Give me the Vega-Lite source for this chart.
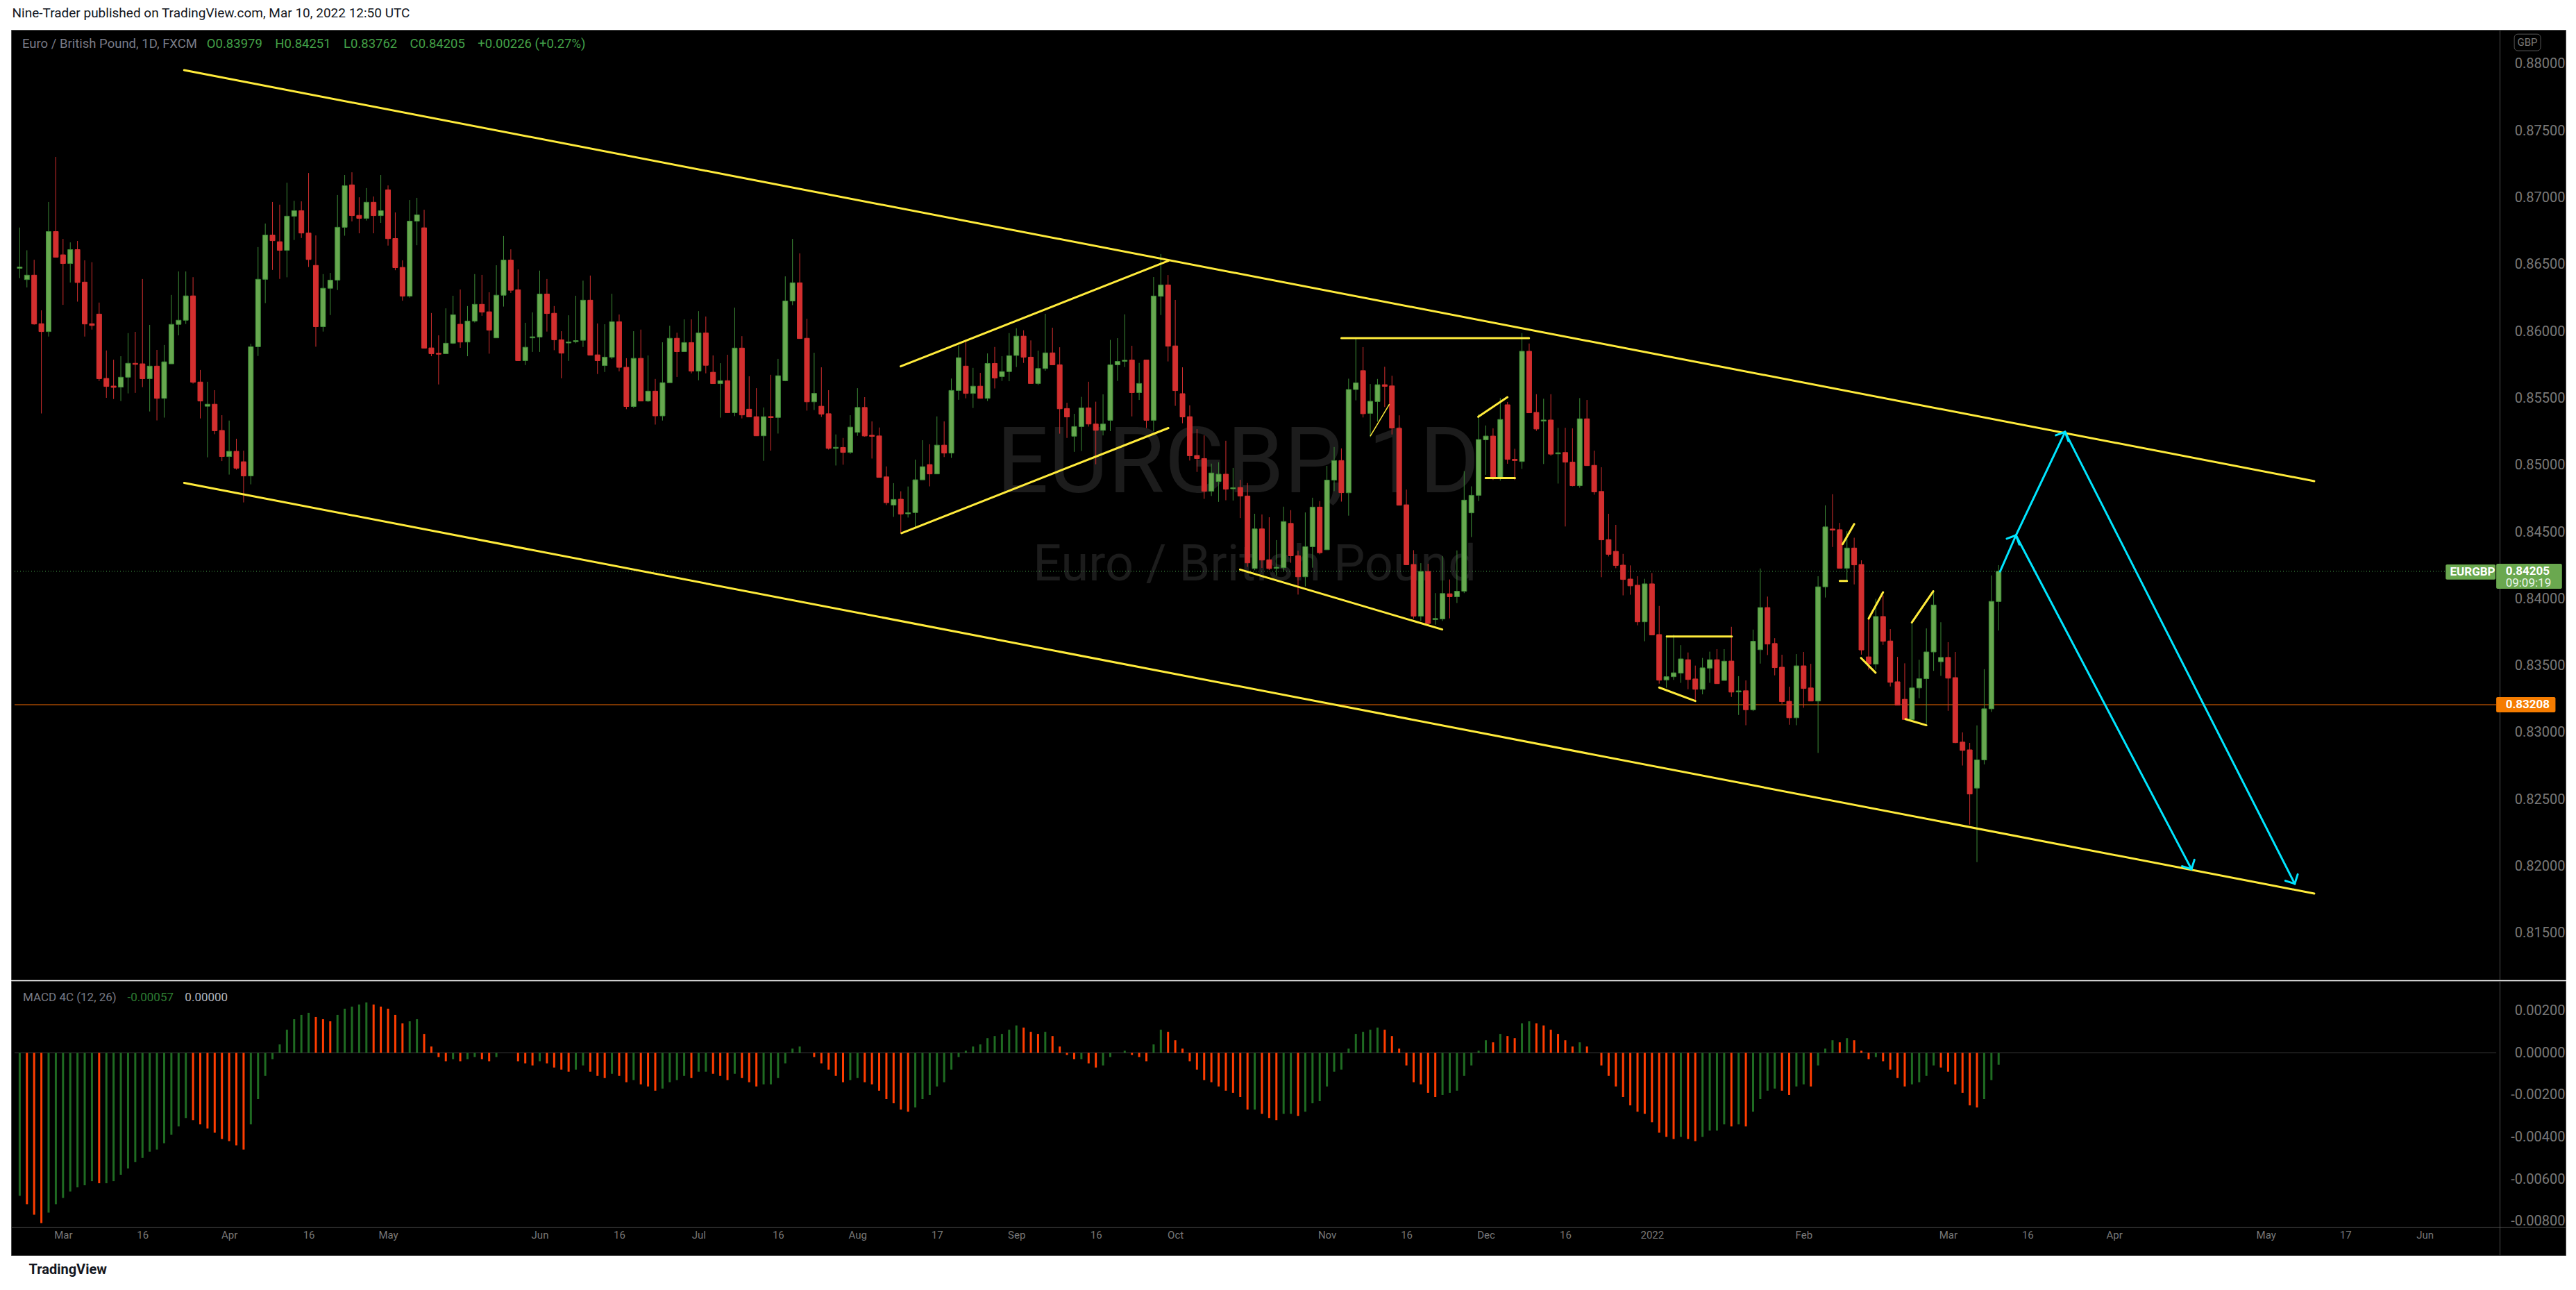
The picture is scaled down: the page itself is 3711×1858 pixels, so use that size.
{
"$schema":"https://vega.github.io/schema/vega-lite/v6.json",
"background":"#ffffff",
"padding":{"left":15,"right":16,"top":9,"bottom":17},
"title":{"text":"Nine-Trader published on TradingView.com, Mar 10, 2022 12:50 UTC","anchor":"start","offset":14,"font":"Roboto","fontSize":19,"fontWeight":"normal","color":"#131722","dx":2},
"spacing":0,
"config":{"view":{"stroke":"#4d4d4d","fill":"#000000"},"axis":{"grid":false,"ticks":false,"labelColor":"#787878","labelFont":"Roboto","domainColor":"#4d4d4d"}},
"datasets":{
"candles":[
{"t":-6,"o":0.8647,"h":0.86775,"l":0.86397,"c":0.8648},
{"t":-5,"o":0.86386,"h":0.86605,"l":0.86327,"c":0.86419},
{"t":-4,"o":0.86419,"h":0.86534,"l":0.86049,"c":0.86054},
{"t":-3,"o":0.86056,"h":0.86156,"l":0.85385,"c":0.85997},
{"t":-2,"o":0.85997,"h":0.86966,"l":0.8596,"c":0.86745},
{"t":-1,"o":0.86745,"h":0.87303,"l":0.86553,"c":0.86553},
{"t":0,"o":0.86571,"h":0.8669,"l":0.86197,"c":0.86506},
{"t":1,"o":0.86506,"h":0.86664,"l":0.86364,"c":0.8661},
{"t":2,"o":0.8661,"h":0.86675,"l":0.86221,"c":0.86364},
{"t":3,"o":0.86367,"h":0.8653,"l":0.8596,"c":0.86054},
{"t":4,"o":0.86056,"h":0.86516,"l":0.86012,"c":0.86043},
{"t":5,"o":0.86128,"h":0.86214,"l":0.85628,"c":0.85645},
{"t":6,"o":0.85647,"h":0.85856,"l":0.85502,"c":0.85587},
{"t":7,"o":0.8559,"h":0.85787,"l":0.85493,"c":0.8558},
{"t":8,"o":0.85582,"h":0.85813,"l":0.85478,"c":0.85656},
{"t":9,"o":0.85656,"h":0.85986,"l":0.85535,"c":0.8576},
{"t":10,"o":0.8576,"h":0.85995,"l":0.85539,"c":0.85752},
{"t":11,"o":0.85756,"h":0.8639,"l":0.85582,"c":0.85645},
{"t":12,"o":0.85645,"h":0.86047,"l":0.854,"c":0.85739},
{"t":13,"o":0.85739,"h":0.8586,"l":0.85333,"c":0.85498},
{"t":14,"o":0.85498,"h":0.85897,"l":0.85354,"c":0.85771},
{"t":15,"o":0.85756,"h":0.86271,"l":0.85756,"c":0.86051},
{"t":16,"o":0.86051,"h":0.86447,"l":0.85969,"c":0.86082},
{"t":17,"o":0.86082,"h":0.86447,"l":0.86054,"c":0.86264},
{"t":18,"o":0.86264,"h":0.86404,"l":0.85608,"c":0.85619},
{"t":19,"o":0.8562,"h":0.8571,"l":0.85348,"c":0.85478},
{"t":20,"o":0.85439,"h":0.85622,"l":0.85057,"c":0.85454},
{"t":21,"o":0.85454,"h":0.85559,"l":0.8523,"c":0.85256},
{"t":22,"o":0.85258,"h":0.85372,"l":0.85029,"c":0.85063},
{"t":23,"o":0.85063,"h":0.85332,"l":0.84928,"c":0.85102},
{"t":24,"o":0.85102,"h":0.85196,"l":0.84965,"c":0.84976},
{"t":25,"o":0.85024,"h":0.85107,"l":0.8472,"c":0.84918},
{"t":26,"o":0.84918,"h":0.85906,"l":0.84855,"c":0.85884},
{"t":27,"o":0.85884,"h":0.86629,"l":0.85815,"c":0.86388},
{"t":28,"o":0.86388,"h":0.86805,"l":0.8621,"c":0.86719},
{"t":29,"o":0.86719,"h":0.86966,"l":0.86458,"c":0.86677},
{"t":30,"o":0.86669,"h":0.86946,"l":0.86391,"c":0.86605},
{"t":31,"o":0.86605,"h":0.8711,"l":0.86403,"c":0.8686},
{"t":32,"o":0.8686,"h":0.86975,"l":0.86682,"c":0.86901},
{"t":33,"o":0.86901,"h":0.86971,"l":0.86697,"c":0.86734},
{"t":34,"o":0.86734,"h":0.87183,"l":0.8648,"c":0.86536},
{"t":35,"o":0.86492,"h":0.86716,"l":0.85884,"c":0.86034},
{"t":36,"o":0.86034,"h":0.86427,"l":0.85997,"c":0.86321},
{"t":37,"o":0.86321,"h":0.86436,"l":0.86121,"c":0.86382},
{"t":38,"o":0.86382,"h":0.87018,"l":0.86308,"c":0.86777},
{"t":39,"o":0.86777,"h":0.87168,"l":0.86714,"c":0.87088},
{"t":40,"o":0.87094,"h":0.87188,"l":0.86821,"c":0.86864},
{"t":41,"o":0.86866,"h":0.87001,"l":0.86732,"c":0.86844},
{"t":42,"o":0.86844,"h":0.8707,"l":0.86827,"c":0.86964},
{"t":43,"o":0.86964,"h":0.87007,"l":0.86732,"c":0.86864},
{"t":44,"o":0.86864,"h":0.87168,"l":0.8681,"c":0.86901},
{"t":45,"o":0.87057,"h":0.8709,"l":0.8664,"c":0.86692},
{"t":46,"o":0.86693,"h":0.86888,"l":0.86456,"c":0.86475},
{"t":47,"o":0.86477,"h":0.8653,"l":0.86228,"c":0.86262},
{"t":48,"o":0.86262,"h":0.86981,"l":0.86251,"c":0.86823},
{"t":49,"o":0.86823,"h":0.86997,"l":0.86643,"c":0.8687},
{"t":50,"o":0.86773,"h":0.86908,"l":0.85873,"c":0.85873},
{"t":51,"o":0.85875,"h":0.86136,"l":0.85813,"c":0.85832},
{"t":52,"o":0.85835,"h":0.85969,"l":0.85602,"c":0.85828},
{"t":53,"o":0.85832,"h":0.86171,"l":0.85832,"c":0.8591},
{"t":54,"o":0.8591,"h":0.86265,"l":0.85904,"c":0.86123},
{"t":55,"o":0.86052,"h":0.86312,"l":0.85876,"c":0.85919},
{"t":56,"o":0.85919,"h":0.86188,"l":0.85813,"c":0.86076},
{"t":57,"o":0.86076,"h":0.86427,"l":0.86065,"c":0.86201},
{"t":58,"o":0.86201,"h":0.86421,"l":0.86115,"c":0.86143},
{"t":59,"o":0.86145,"h":0.86291,"l":0.85832,"c":0.86008},
{"t":60,"o":0.8595,"h":0.86493,"l":0.8595,"c":0.86269},
{"t":61,"o":0.86269,"h":0.86712,"l":0.86184,"c":0.86532},
{"t":62,"o":0.86532,"h":0.86612,"l":0.86286,"c":0.86306},
{"t":63,"o":0.8631,"h":0.86462,"l":0.8578,"c":0.8578},
{"t":64,"o":0.8578,"h":0.86063,"l":0.85747,"c":0.8588},
{"t":65,"o":0.8595,"h":0.86141,"l":0.85845,"c":0.85958},
{"t":66,"o":0.85956,"h":0.86453,"l":0.85845,"c":0.86278},
{"t":67,"o":0.86278,"h":0.8639,"l":0.85997,"c":0.86132},
{"t":68,"o":0.86134,"h":0.86188,"l":0.85858,"c":0.85936},
{"t":69,"o":0.85936,"h":0.86,"l":0.85648,"c":0.85836},
{"t":70,"o":0.85912,"h":0.86119,"l":0.85778,"c":0.8592},
{"t":71,"o":0.85922,"h":0.86265,"l":0.8591,"c":0.8593},
{"t":72,"o":0.85932,"h":0.86378,"l":0.85882,"c":0.86232},
{"t":73,"o":0.86232,"h":0.86416,"l":0.85821,"c":0.85821},
{"t":74,"o":0.85823,"h":0.86058,"l":0.8568,"c":0.8578},
{"t":75,"o":0.85743,"h":0.86052,"l":0.85695,"c":0.85806},
{"t":76,"o":0.85806,"h":0.8628,"l":0.85793,"c":0.86071},
{"t":77,"o":0.86071,"h":0.86125,"l":0.857,"c":0.8573},
{"t":78,"o":0.8573,"h":0.85798,"l":0.85417,"c":0.85437},
{"t":79,"o":0.85437,"h":0.86,"l":0.85426,"c":0.85797},
{"t":80,"o":0.85797,"h":0.86012,"l":0.85478,"c":0.85478},
{"t":81,"o":0.85478,"h":0.85819,"l":0.85471,"c":0.85552},
{"t":82,"o":0.85552,"h":0.85643,"l":0.85302,"c":0.85367},
{"t":83,"o":0.85367,"h":0.85917,"l":0.85332,"c":0.85615},
{"t":84,"o":0.85615,"h":0.86041,"l":0.85615,"c":0.85947},
{"t":85,"o":0.85947,"h":0.85989,"l":0.85658,"c":0.85847},
{"t":86,"o":0.85847,"h":0.86089,"l":0.85847,"c":0.85915},
{"t":87,"o":0.85915,"h":0.86089,"l":0.85685,"c":0.85702},
{"t":88,"o":0.85702,"h":0.8615,"l":0.85633,"c":0.85987},
{"t":89,"o":0.85987,"h":0.8611,"l":0.85685,"c":0.85745},
{"t":90,"o":0.85693,"h":0.85819,"l":0.85608,"c":0.85608},
{"t":91,"o":0.85608,"h":0.85761,"l":0.85354,"c":0.8563},
{"t":92,"o":0.8563,"h":0.85824,"l":0.85391,"c":0.85391},
{"t":93,"o":0.85391,"h":0.86176,"l":0.85365,"c":0.85874},
{"t":94,"o":0.85874,"h":0.85963,"l":0.85348,"c":0.85374},
{"t":95,"o":0.85417,"h":0.85663,"l":0.85359,"c":0.85359},
{"t":96,"o":0.85361,"h":0.85574,"l":0.85218,"c":0.85218},
{"t":97,"o":0.85218,"h":0.8543,"l":0.85031,"c":0.85361},
{"t":98,"o":0.85362,"h":0.85674,"l":0.85107,"c":0.85354},
{"t":99,"o":0.85355,"h":0.85793,"l":0.85235,"c":0.85667},
{"t":100,"o":0.8563,"h":0.8641,"l":0.85626,"c":0.86226},
{"t":101,"o":0.86226,"h":0.8669,"l":0.86195,"c":0.86362},
{"t":102,"o":0.86362,"h":0.86582,"l":0.85945,"c":0.85945},
{"t":103,"o":0.85947,"h":0.86093,"l":0.85406,"c":0.85472},
{"t":104,"o":0.85472,"h":0.85839,"l":0.85411,"c":0.85535},
{"t":105,"o":0.85439,"h":0.8573,"l":0.85359,"c":0.8538},
{"t":106,"o":0.85383,"h":0.85559,"l":0.85115,"c":0.85124},
{"t":107,"o":0.85124,"h":0.85228,"l":0.84996,"c":0.85132},
{"t":108,"o":0.85131,"h":0.85202,"l":0.85002,"c":0.85094},
{"t":109,"o":0.85094,"h":0.85372,"l":0.85083,"c":0.85283},
{"t":110,"o":0.85244,"h":0.85574,"l":0.85218,"c":0.8543},
{"t":111,"o":0.8543,"h":0.85507,"l":0.85211,"c":0.85217},
{"t":112,"o":0.85222,"h":0.85326,"l":0.85048,"c":0.85214},
{"t":113,"o":0.85217,"h":0.8528,"l":0.84907,"c":0.84907},
{"t":114,"o":0.84911,"h":0.84989,"l":0.847,"c":0.84718},
{"t":115,"o":0.847,"h":0.84864,"l":0.84612,"c":0.84742},
{"t":116,"o":0.84744,"h":0.84803,"l":0.8449,"c":0.84633},
{"t":117,"o":0.84635,"h":0.84839,"l":0.84607,"c":0.84643},
{"t":118,"o":0.84644,"h":0.8504,"l":0.84527,"c":0.84889},
{"t":119,"o":0.84889,"h":0.85185,"l":0.84889,"c":0.84987},
{"t":120,"o":0.85003,"h":0.85155,"l":0.8484,"c":0.84933},
{"t":121,"o":0.84933,"h":0.85363,"l":0.84933,"c":0.85148},
{"t":122,"o":0.85148,"h":0.85326,"l":0.85059,"c":0.85089},
{"t":123,"o":0.85089,"h":0.85646,"l":0.85053,"c":0.85557},
{"t":124,"o":0.85557,"h":0.85893,"l":0.85487,"c":0.85802},
{"t":125,"o":0.85739,"h":0.85937,"l":0.85498,"c":0.85535},
{"t":126,"o":0.85535,"h":0.85726,"l":0.85426,"c":0.85589},
{"t":127,"o":0.85589,"h":0.85689,"l":0.85498,"c":0.85498},
{"t":128,"o":0.85498,"h":0.85834,"l":0.85478,"c":0.85759},
{"t":129,"o":0.85759,"h":0.85882,"l":0.85572,"c":0.8565},
{"t":130,"o":0.85661,"h":0.85813,"l":0.85628,"c":0.85698},
{"t":131,"o":0.85698,"h":0.85986,"l":0.85626,"c":0.85817},
{"t":132,"o":0.85819,"h":0.86022,"l":0.85732,"c":0.85963},
{"t":133,"o":0.85963,"h":0.86007,"l":0.85763,"c":0.85806},
{"t":134,"o":0.85806,"h":0.85931,"l":0.85609,"c":0.85609},
{"t":135,"o":0.85609,"h":0.85855,"l":0.85598,"c":0.85721},
{"t":136,"o":0.85721,"h":0.8613,"l":0.85704,"c":0.85838},
{"t":137,"o":0.85838,"h":0.86026,"l":0.85749,"c":0.85749},
{"t":138,"o":0.85749,"h":0.8588,"l":0.85234,"c":0.8542},
{"t":139,"o":0.85422,"h":0.85465,"l":0.85202,"c":0.85359},
{"t":140,"o":0.85215,"h":0.85382,"l":0.85098,"c":0.85287},
{"t":141,"o":0.85287,"h":0.85509,"l":0.85105,"c":0.85427},
{"t":142,"o":0.85427,"h":0.85622,"l":0.85287,"c":0.85306},
{"t":143,"o":0.85306,"h":0.85473,"l":0.85005,"c":0.85259},
{"t":144,"o":0.85259,"h":0.85528,"l":0.85221,"c":0.85306},
{"t":145,"o":0.85334,"h":0.85935,"l":0.85253,"c":0.85749},
{"t":146,"o":0.85749,"h":0.85948,"l":0.85628,"c":0.85774},
{"t":147,"o":0.85775,"h":0.86126,"l":0.85732,"c":0.85783},
{"t":148,"o":0.85785,"h":0.85891,"l":0.85363,"c":0.85541},
{"t":149,"o":0.85541,"h":0.85763,"l":0.85486,"c":0.85609},
{"t":150,"o":0.85785,"h":0.85785,"l":0.85276,"c":0.85334},
{"t":151,"o":0.85334,"h":0.86405,"l":0.85251,"c":0.86263},
{"t":152,"o":0.86261,"h":0.86577,"l":0.86121,"c":0.86346},
{"t":153,"o":0.86346,"h":0.8642,"l":0.85774,"c":0.85888},
{"t":154,"o":0.8589,"h":0.86234,"l":0.85442,"c":0.85556},
{"t":155,"o":0.85533,"h":0.8573,"l":0.85312,"c":0.85359},
{"t":156,"o":0.85361,"h":0.85446,"l":0.85033,"c":0.85069},
{"t":157,"o":0.85071,"h":0.85268,"l":0.84948,"c":0.85048},
{"t":158,"o":0.85048,"h":0.85221,"l":0.84747,"c":0.84804},
{"t":159,"o":0.84804,"h":0.8501,"l":0.84768,"c":0.8494},
{"t":160,"o":0.84876,"h":0.8502,"l":0.84724,"c":0.84931},
{"t":161,"o":0.84931,"h":0.85181,"l":0.84736,"c":0.84819},
{"t":162,"o":0.84822,"h":0.84978,"l":0.84734,"c":0.8483},
{"t":163,"o":0.84832,"h":0.84889,"l":0.84603,"c":0.84768},
{"t":164,"o":0.84768,"h":0.84865,"l":0.84238,"c":0.84268},
{"t":165,"o":0.84226,"h":0.84635,"l":0.84213,"c":0.84522},
{"t":166,"o":0.84522,"h":0.8463,"l":0.8423,"c":0.84289},
{"t":167,"o":0.84291,"h":0.84609,"l":0.84215,"c":0.84226},
{"t":168,"o":0.84227,"h":0.84438,"l":0.84173,"c":0.84235},
{"t":169,"o":0.84232,"h":0.84688,"l":0.842,"c":0.84577},
{"t":170,"o":0.84563,"h":0.84662,"l":0.84268,"c":0.84321},
{"t":171,"o":0.84321,"h":0.84359,"l":0.84031,"c":0.84164},
{"t":172,"o":0.84164,"h":0.84645,"l":0.84092,"c":0.84389},
{"t":173,"o":0.84389,"h":0.84755,"l":0.84232,"c":0.84685},
{"t":174,"o":0.84685,"h":0.8473,"l":0.84332,"c":0.84344},
{"t":175,"o":0.84366,"h":0.84993,"l":0.84366,"c":0.84887},
{"t":176,"o":0.84887,"h":0.85134,"l":0.84804,"c":0.85033},
{"t":177,"o":0.85033,"h":0.85124,"l":0.84726,"c":0.84793},
{"t":178,"o":0.84792,"h":0.85645,"l":0.84621,"c":0.85564},
{"t":179,"o":0.85564,"h":0.85948,"l":0.85483,"c":0.85614},
{"t":180,"o":0.85705,"h":0.85881,"l":0.85355,"c":0.85383},
{"t":181,"o":0.85386,"h":0.85605,"l":0.85209,"c":0.85476},
{"t":182,"o":0.85474,"h":0.85643,"l":0.85324,"c":0.856},
{"t":183,"o":0.856,"h":0.85734,"l":0.85433,"c":0.85588},
{"t":184,"o":0.85591,"h":0.85667,"l":0.85228,"c":0.85276},
{"t":185,"o":0.85274,"h":0.85371,"l":0.84699,"c":0.84699},
{"t":186,"o":0.84702,"h":0.84816,"l":0.84254,"c":0.84254},
{"t":187,"o":0.84256,"h":0.84363,"l":0.83851,"c":0.8387},
{"t":188,"o":0.8387,"h":0.84266,"l":0.83834,"c":0.84204},
{"t":189,"o":0.84204,"h":0.84261,"l":0.83806,"c":0.83815},
{"t":190,"o":0.83844,"h":0.84042,"l":0.83806,"c":0.83852},
{"t":191,"o":0.83849,"h":0.84318,"l":0.83834,"c":0.84039},
{"t":192,"o":0.84037,"h":0.84144,"l":0.83853,"c":0.84015},
{"t":193,"o":0.84015,"h":0.84361,"l":0.83968,"c":0.84056},
{"t":194,"o":0.84056,"h":0.84954,"l":0.84042,"c":0.84737},
{"t":195,"o":0.84642,"h":0.8484,"l":0.84461,"c":0.84773},
{"t":196,"o":0.84773,"h":0.85379,"l":0.8473,"c":0.8519},
{"t":197,"o":0.85188,"h":0.85295,"l":0.84926,"c":0.85216},
{"t":198,"o":0.85216,"h":0.85274,"l":0.84888,"c":0.849},
{"t":199,"o":0.849,"h":0.855,"l":0.84883,"c":0.8534},
{"t":200,"o":0.8545,"h":0.85471,"l":0.85009,"c":0.85042},
{"t":201,"o":0.85042,"h":0.85121,"l":0.84888,"c":0.85033},
{"t":202,"o":0.85026,"h":0.85986,"l":0.84971,"c":0.8585},
{"t":203,"o":0.8585,"h":0.85908,"l":0.8539,"c":0.8539},
{"t":204,"o":0.85393,"h":0.85529,"l":0.85255,"c":0.85269},
{"t":205,"o":0.85328,"h":0.85495,"l":0.85007,"c":0.85336},
{"t":206,"o":0.85336,"h":0.85529,"l":0.85069,"c":0.85081},
{"t":207,"o":0.85083,"h":0.85278,"l":0.84861,"c":0.85091},
{"t":208,"o":0.85093,"h":0.85278,"l":0.8454,"c":0.85021},
{"t":209,"o":0.85021,"h":0.85274,"l":0.8484,"c":0.84845},
{"t":210,"o":0.84845,"h":0.855,"l":0.8483,"c":0.85345},
{"t":211,"o":0.85345,"h":0.85486,"l":0.84995,"c":0.84995},
{"t":212,"o":0.84997,"h":0.85107,"l":0.84778,"c":0.84799},
{"t":213,"o":0.84802,"h":0.84983,"l":0.84161,"c":0.8444},
{"t":214,"o":0.84442,"h":0.84635,"l":0.84316,"c":0.84332},
{"t":215,"o":0.84354,"h":0.84552,"l":0.84228,"c":0.84249},
{"t":216,"o":0.84251,"h":0.84335,"l":0.84025,"c":0.84144},
{"t":217,"o":0.84147,"h":0.84249,"l":0.8403,"c":0.84096},
{"t":218,"o":0.84101,"h":0.84168,"l":0.83801,"c":0.83827},
{"t":219,"o":0.83827,"h":0.84149,"l":0.83682,"c":0.84111},
{"t":220,"o":0.84111,"h":0.84192,"l":0.83729,"c":0.83729},
{"t":221,"o":0.83732,"h":0.83946,"l":0.83365,"c":0.83391},
{"t":222,"o":0.83393,"h":0.83727,"l":0.83334,"c":0.83417},
{"t":223,"o":0.83417,"h":0.8373,"l":0.83393,"c":0.83446},
{"t":224,"o":0.83444,"h":0.83653,"l":0.83371,"c":0.8355},
{"t":225,"o":0.83544,"h":0.83598,"l":0.83323,"c":0.83396},
{"t":226,"o":0.834,"h":0.835,"l":0.83237,"c":0.83323},
{"t":227,"o":0.83323,"h":0.83557,"l":0.83285,"c":0.83483},
{"t":228,"o":0.83481,"h":0.83604,"l":0.83371,"c":0.83544},
{"t":229,"o":0.83544,"h":0.83623,"l":0.83365,"c":0.83365},
{"t":230,"o":0.83389,"h":0.83623,"l":0.83389,"c":0.83533},
{"t":231,"o":0.83534,"h":0.8379,"l":0.83266,"c":0.83302},
{"t":232,"o":0.83303,"h":0.83421,"l":0.83131,"c":0.83311},
{"t":233,"o":0.83312,"h":0.83389,"l":0.83054,"c":0.8317},
{"t":234,"o":0.8317,"h":0.83769,"l":0.8316,"c":0.83682},
{"t":235,"o":0.83619,"h":0.84226,"l":0.83515,"c":0.83934},
{"t":236,"o":0.83934,"h":0.84016,"l":0.83579,"c":0.83661},
{"t":237,"o":0.83665,"h":0.83705,"l":0.83427,"c":0.83485},
{"t":238,"o":0.83488,"h":0.83581,"l":0.83212,"c":0.83231},
{"t":239,"o":0.83233,"h":0.83342,"l":0.83058,"c":0.8311},
{"t":240,"o":0.8311,"h":0.83586,"l":0.83054,"c":0.83498},
{"t":241,"o":0.83498,"h":0.83602,"l":0.83185,"c":0.83329},
{"t":242,"o":0.83333,"h":0.83513,"l":0.83235,"c":0.83235},
{"t":243,"o":0.83235,"h":0.84168,"l":0.82847,"c":0.84089},
{"t":244,"o":0.84089,"h":0.84698,"l":0.84009,"c":0.84537},
{"t":245,"o":0.84521,"h":0.84781,"l":0.84387,"c":0.84513},
{"t":246,"o":0.84516,"h":0.84567,"l":0.84228,"c":0.84228},
{"t":247,"o":0.84228,"h":0.84504,"l":0.84135,"c":0.84379},
{"t":248,"o":0.84379,"h":0.84456,"l":0.84107,"c":0.84253},
{"t":249,"o":0.84256,"h":0.84287,"l":0.83582,"c":0.83617},
{"t":250,"o":0.83565,"h":0.83855,"l":0.83469,"c":0.83511},
{"t":251,"o":0.83511,"h":0.83999,"l":0.83469,"c":0.83867},
{"t":252,"o":0.83867,"h":0.84024,"l":0.83655,"c":0.83682},
{"t":253,"o":0.83684,"h":0.83773,"l":0.83344,"c":0.83375},
{"t":254,"o":0.83379,"h":0.83565,"l":0.83204,"c":0.83204},
{"t":255,"o":0.83248,"h":0.83517,"l":0.83097,"c":0.83097},
{"t":256,"o":0.83097,"h":0.83826,"l":0.83097,"c":0.83333},
{"t":257,"o":0.83333,"h":0.83544,"l":0.83256,"c":0.83402},
{"t":258,"o":0.83402,"h":0.83778,"l":0.83064,"c":0.83602},
{"t":259,"o":0.83602,"h":0.84061,"l":0.83461,"c":0.83953},
{"t":260,"o":0.83529,"h":0.83824,"l":0.83423,"c":0.83561},
{"t":261,"o":0.83561,"h":0.83675,"l":0.83162,"c":0.83406},
{"t":262,"o":0.8341,"h":0.83602,"l":0.8292,"c":0.82924},
{"t":263,"o":0.82928,"h":0.83001,"l":0.82753,"c":0.82866},
{"t":264,"o":0.8287,"h":0.82922,"l":0.82311,"c":0.8254},
{"t":265,"o":0.82584,"h":0.83053,"l":0.82031,"c":0.82795},
{"t":266,"o":0.82795,"h":0.83473,"l":0.82761,"c":0.83177},
{"t":267,"o":0.83177,"h":0.84174,"l":0.83154,"c":0.8398},
{"t":268,"o":0.83979,"h":0.84251,"l":0.83762,"c":0.84205}
],
"macd":[
{"t":-6,"m":-0.0068},{"t":-5,"m":-0.0072},{"t":-4,"m":-0.0077},{"t":-3,"m":-0.0081},{"t":-2,"m":-0.0076},{"t":-1,"m":-0.0072},{"t":0,"m":-0.0069},{"t":1,"m":-0.0066},{"t":2,"m":-0.0064},{"t":3,"m":-0.0063},
{"t":4,"m":-0.0061},{"t":5,"m":-0.0062},{"t":6,"m":-0.0062},{"t":7,"m":-0.0061},{"t":8,"m":-0.0058},{"t":9,"m":-0.0055},{"t":10,"m":-0.0052},{"t":11,"m":-0.005},{"t":12,"m":-0.0047},{"t":13,"m":-0.0046},
{"t":14,"m":-0.0043},{"t":15,"m":-0.0039},{"t":16,"m":-0.0035},{"t":17,"m":-0.0031},{"t":18,"m":-0.0032},{"t":19,"m":-0.0034},{"t":20,"m":-0.0036},{"t":21,"m":-0.0038},{"t":22,"m":-0.0041},{"t":23,"m":-0.0042},
{"t":24,"m":-0.0044},{"t":25,"m":-0.0046},{"t":26,"m":-0.0034},{"t":27,"m":-0.0022},{"t":28,"m":-0.0011},{"t":29,"m":-0.0003},{"t":30,"m":0.0004},{"t":31,"m":0.0011},{"t":32,"m":0.0016},{"t":33,"m":0.0018},
{"t":34,"m":0.0019},{"t":35,"m":0.0017},{"t":36,"m":0.0016},{"t":37,"m":0.0015},{"t":38,"m":0.0018},{"t":39,"m":0.0021},{"t":40,"m":0.0022},{"t":41,"m":0.0023},{"t":42,"m":0.0024},{"t":43,"m":0.0023},
{"t":44,"m":0.0022},{"t":45,"m":0.0021},{"t":46,"m":0.0018},{"t":47,"m":0.0014},{"t":48,"m":0.0015},{"t":49,"m":0.0016},{"t":50,"m":0.0009},{"t":51,"m":0.0003},{"t":52,"m":-0.0002},{"t":53,"m":-0.0004},
{"t":54,"m":-0.0003},{"t":55,"m":-0.0004},{"t":56,"m":-0.0003},{"t":57,"m":-0.0002},{"t":58,"m":-0.0003},{"t":59,"m":-0.0004},{"t":60,"m":-0.0002},{"t":61,"m":0.0},{"t":62,"m":0.0},{"t":63,"m":-0.0004},
{"t":64,"m":-0.0005},{"t":65,"m":-0.0006},{"t":66,"m":-0.0004},{"t":67,"m":-0.0005},{"t":68,"m":-0.0007},{"t":69,"m":-0.0008},{"t":70,"m":-0.0009},{"t":71,"m":-0.0008},{"t":72,"m":-0.0006},{"t":73,"m":-0.0009},
{"t":74,"m":-0.0011},{"t":75,"m":-0.0012},{"t":76,"m":-0.001},{"t":77,"m":-0.0011},{"t":78,"m":-0.0014},{"t":79,"m":-0.0013},{"t":80,"m":-0.0015},{"t":81,"m":-0.0016},{"t":82,"m":-0.0018},{"t":83,"m":-0.0017},
{"t":84,"m":-0.0014},{"t":85,"m":-0.0013},{"t":86,"m":-0.0011},{"t":87,"m":-0.0012},{"t":88,"m":-0.0009},{"t":89,"m":-0.0009},{"t":90,"m":-0.001},{"t":91,"m":-0.0011},{"t":92,"m":-0.0013},{"t":93,"m":-0.001},
{"t":94,"m":-0.0012},{"t":95,"m":-0.0014},{"t":96,"m":-0.0016},{"t":97,"m":-0.0015},{"t":98,"m":-0.0015},{"t":99,"m":-0.0012},{"t":100,"m":-0.0005},{"t":101,"m":0.0002},{"t":102,"m":0.0003},{"t":103,"m":0.0},
{"t":104,"m":-0.0002},{"t":105,"m":-0.0005},{"t":106,"m":-0.0008},{"t":107,"m":-0.0011},{"t":108,"m":-0.0014},{"t":109,"m":-0.0013},{"t":110,"m":-0.0012},{"t":111,"m":-0.0014},{"t":112,"m":-0.0015},{"t":113,"m":-0.0018},
{"t":114,"m":-0.0022},{"t":115,"m":-0.0024},{"t":116,"m":-0.0027},{"t":117,"m":-0.0028},{"t":118,"m":-0.0026},{"t":119,"m":-0.0022},{"t":120,"m":-0.002},{"t":121,"m":-0.0016},{"t":122,"m":-0.0014},{"t":123,"m":-0.0008},
{"t":124,"m":-0.0002},{"t":125,"m":0.0001},{"t":126,"m":0.0003},{"t":127,"m":0.0004},{"t":128,"m":0.0007},{"t":129,"m":0.0008},{"t":130,"m":0.0009},{"t":131,"m":0.0011},{"t":132,"m":0.0013},{"t":133,"m":0.0012},
{"t":134,"m":0.001},{"t":135,"m":0.0009},{"t":136,"m":0.001},{"t":137,"m":0.0008},{"t":138,"m":0.0003},{"t":139,"m":-0.0001},{"t":140,"m":-0.0003},{"t":141,"m":-0.0003},{"t":142,"m":-0.0005},{"t":143,"m":-0.0007},
{"t":144,"m":-0.0006},{"t":145,"m":-0.0002},{"t":146,"m":0.0},{"t":147,"m":0.0001},{"t":148,"m":-0.0001},{"t":149,"m":-0.0002},{"t":150,"m":-0.0004},{"t":151,"m":0.0004},{"t":152,"m":0.0011},{"t":153,"m":0.001},
{"t":154,"m":0.0006},{"t":155,"m":0.0002},{"t":156,"m":-0.0004},{"t":157,"m":-0.0008},{"t":158,"m":-0.0013},{"t":159,"m":-0.0014},{"t":160,"m":-0.0016},{"t":161,"m":-0.0018},{"t":162,"m":-0.0019},{"t":163,"m":-0.0021},
{"t":164,"m":-0.0027},{"t":165,"m":-0.0027},{"t":166,"m":-0.0029},{"t":167,"m":-0.0031},{"t":168,"m":-0.0032},{"t":169,"m":-0.0029},{"t":170,"m":-0.0029},{"t":171,"m":-0.003},{"t":172,"m":-0.0028},{"t":173,"m":-0.0024},
{"t":174,"m":-0.0023},{"t":175,"m":-0.0016},{"t":176,"m":-0.0009},{"t":177,"m":-0.0008},{"t":178,"m":0.0002},{"t":179,"m":0.0009},{"t":180,"m":0.001},{"t":181,"m":0.0011},{"t":182,"m":0.0012},{"t":183,"m":0.0011},
{"t":184,"m":0.0008},{"t":185,"m":0.0002},{"t":186,"m":-0.0006},{"t":187,"m":-0.0014},{"t":188,"m":-0.0015},{"t":189,"m":-0.0019},{"t":190,"m":-0.0021},{"t":191,"m":-0.002},{"t":192,"m":-0.0019},{"t":193,"m":-0.0018},
{"t":194,"m":-0.0011},{"t":195,"m":-0.0006},{"t":196,"m":0.0001},{"t":197,"m":0.0006},{"t":198,"m":0.0005},{"t":199,"m":0.0009},{"t":200,"m":0.0008},{"t":201,"m":0.0007},{"t":202,"m":0.0014},{"t":203,"m":0.0015},
{"t":204,"m":0.0014},{"t":205,"m":0.0013},{"t":206,"m":0.0011},{"t":207,"m":0.0009},{"t":208,"m":0.0006},{"t":209,"m":0.0003},{"t":210,"m":0.0005},{"t":211,"m":0.0003},{"t":212,"m":0.0},{"t":213,"m":-0.0006},
{"t":214,"m":-0.0011},{"t":215,"m":-0.0016},{"t":216,"m":-0.0021},{"t":217,"m":-0.0025},{"t":218,"m":-0.0028},{"t":219,"m":-0.0029},{"t":220,"m":-0.0033},{"t":221,"m":-0.0038},{"t":222,"m":-0.004},{"t":223,"m":-0.0041},
{"t":224,"m":-0.004},{"t":225,"m":-0.0041},{"t":226,"m":-0.0042},{"t":227,"m":-0.004},{"t":228,"m":-0.0037},{"t":229,"m":-0.0037},{"t":230,"m":-0.0034},{"t":231,"m":-0.0035},{"t":232,"m":-0.0034},{"t":233,"m":-0.0035},
{"t":234,"m":-0.0028},{"t":235,"m":-0.0022},{"t":236,"m":-0.0018},{"t":237,"m":-0.0017},{"t":238,"m":-0.0018},{"t":239,"m":-0.002},{"t":240,"m":-0.0016},{"t":241,"m":-0.0015},{"t":242,"m":-0.0016},{"t":243,"m":-0.0006},
{"t":244,"m":0.0002},{"t":245,"m":0.0006},{"t":246,"m":0.0005},{"t":247,"m":0.0007},{"t":248,"m":0.0006},{"t":249,"m":0.0001},{"t":250,"m":-0.0003},{"t":251,"m":-0.0002},{"t":252,"m":-0.0004},{"t":253,"m":-0.0008},
{"t":254,"m":-0.0012},{"t":255,"m":-0.0016},{"t":256,"m":-0.0015},{"t":257,"m":-0.0014},{"t":258,"m":-0.0011},{"t":259,"m":-0.0006},{"t":260,"m":-0.0007},{"t":261,"m":-0.0009},{"t":262,"m":-0.0015},{"t":263,"m":-0.0019},
{"t":264,"m":-0.0025},{"t":265,"m":-0.0026},{"t":266,"m":-0.0022},{"t":267,"m":-0.0013},{"t":268,"m":-0.00057}
],
"lines":[
{"t1":16.77,"p1":0.87952,"t2":311.7,"p2":0.84879,"k":"thick"},
{"t1":16.77,"p1":0.84866,"t2":311.7,"p2":0.81796,"k":"thick"},
{"t1":115.98,"p1":0.85737,"t2":153.04,"p2":0.86526,"k":"thick"},
{"t1":116.1,"p1":0.8449,"t2":153.04,"p2":0.85276,"k":"thick"},
{"t1":162.97,"p1":0.84218,"t2":190.96,"p2":0.8377,"k":"thick"},
{"t1":177.0,"p1":0.85948,"t2":202.98,"p2":0.85948,"k":"thick"},
{"t1":181.0,"p1":0.85216,"t2":183.65,"p2":0.85455,"k":"thin"},
{"t1":195.95,"p1":0.8536,"t2":199.99,"p2":0.85507,"k":"thick"},
{"t1":196.97,"p1":0.84902,"t2":201.03,"p2":0.84902,"k":"thick"},
{"t1":222.05,"p1":0.83718,"t2":231.06,"p2":0.83718,"k":"thick"},
{"t1":221.0,"p1":0.83336,"t2":226.0,"p2":0.83235,"k":"thick"},
{"t1":246.4,"p1":0.84408,"t2":248.0,"p2":0.84558,"k":"thick"},
{"t1":246.0,"p1":0.84133,"t2":247.0,"p2":0.84133,"k":"thick"},
{"t1":248.95,"p1":0.83557,"t2":250.96,"p2":0.83447,"k":"thick"},
{"t1":250.0,"p1":0.83851,"t2":252.0,"p2":0.84048,"k":"thick"},
{"t1":255.1,"p1":0.831,"t2":258.0,"p2":0.83054,"k":"thick"},
{"t1":255.98,"p1":0.83822,"t2":258.95,"p2":0.84056,"k":"thick"}
],
"cyan":[
{"t1":268.2,"p1":0.84204,"t2":270.4,"p2":0.84474},
{"t1":270.4,"p1":0.84474,"t2":294.7,"p2":0.81978},
{"t1":270.4,"p1":0.84474,"t2":277.2,"p2":0.85247},
{"t1":277.2,"p1":0.85247,"t2":309.0,"p2":0.81869}
],
"heads":[
{"t":270.4,"p":0.84474,"d":"up"},
{"t":277.2,"p":0.85247,"d":"up"},
{"t":294.7,"p":0.81978,"d":"down"},
{"t":309.0,"p":0.81869,"d":"down"}
]
},
"vconcat":[
{
"width":3680,"height":1368,
"resolve":{"axis":{"x":"independent","y":"independent"}},
"layer":[
{"data":{"values":[{"s":"EURGBP, 1D","t":162.7,"p":0.84796,"k":"a"},{"s":"Euro / British Pound","t":165,"p":0.84137,"k":"b"}]},
 "mark":{"type":"text","font":"Roboto","align":"center","baseline":"alphabetic","color":"#1c1c1c"},
 "encoding":{"x":{"field":"t","type":"quantitative","scale":{"domain":[-6.71,346.02],"nice":false,"zero":false},"axis":null},
  "y":{"field":"p","type":"quantitative","scale":{"domain":[0.81152,0.88253],"nice":false,"zero":false},"axis":null},
  "text":{"field":"s"},
  "size":{"condition":{"test":"datum.k=='a'","value":132},"value":72}}},
{"data":{"values":[{"p":0.83208}]},
 "mark":{"type":"rule","color":"#7a3500","strokeWidth":2},
 "encoding":{"y":{"field":"p","type":"quantitative","scale":{"domain":[0.81152,0.88253],"nice":false,"zero":false},"axis":null},
  "x":{"datum":-6.71,"type":"quantitative","scale":{"domain":[-6.71,346.02],"nice":false,"zero":false},"axis":null},
  "x2":{"datum":336.9}}},
{"data":{"values":[{"p":0.84205}]},
 "mark":{"type":"rule","color":"#4caf50","strokeWidth":1,"strokeDash":[1,3]},
 "encoding":{"y":{"field":"p","type":"quantitative","scale":{"domain":[0.81152,0.88253],"nice":false,"zero":false},"axis":null},
  "x":{"datum":-6.71,"type":"quantitative","scale":{"domain":[-6.71,346.02],"nice":false,"zero":false},"axis":null},
  "x2":{"datum":329.9}}},
{"data":{"name":"candles"},
 "mark":{"type":"rule","strokeWidth":1},
 "encoding":{"x":{"field":"t","type":"quantitative","scale":{"domain":[-6.71,346.02],"nice":false,"zero":false},"axis":null},
  "y":{"field":"l","type":"quantitative","scale":{"domain":[0.81152,0.88253],"nice":false,"zero":false},
   "axis":{"orient":"right","offset":-95,"values":[0.815,0.82,0.825,0.83,0.835,0.84,0.845,0.85,0.855,0.86,0.865,0.87,0.875,0.88],"format":".5f","labelPadding":94,"labelAlign":"right","labelFontSize":20,"labelColor":"#787878","title":null,"ticks":false,"grid":false,"domainColor":"#4d4d4d"}},
  "y2":{"field":"h"},
  "color":{"condition":{"test":"datum.c >= datum.o","value":"#3d8b37"},"value":"#d32f2f"}}},
{"data":{"name":"candles"},
 "mark":{"type":"bar","width":7,"strokeWidth":1},
 "encoding":{"x":{"field":"t","type":"quantitative","scale":{"domain":[-6.71,346.02],"nice":false,"zero":false},"axis":null},
  "y":{"field":"o","type":"quantitative","scale":{"domain":[0.81152,0.88253],"nice":false,"zero":false},"axis":null},
  "y2":{"field":"c"},
  "fill":{"condition":{"test":"datum.c >= datum.o","value":"#67a84f"},"value":"#d32f2f"},
  "stroke":{"condition":{"test":"datum.c >= datum.o","value":"#3d8b37"},"value":"#d32f2f"}}},
{"data":{"name":"lines"},
 "transform":[{"filter":"datum.k=='thick'"}],
 "mark":{"type":"rule","color":"#ffeb3b","strokeWidth":3,"strokeCap":"round"},
 "encoding":{"x":{"field":"t1","type":"quantitative","scale":{"domain":[-6.71,346.02],"nice":false,"zero":false},"axis":null},
  "y":{"field":"p1","type":"quantitative","scale":{"domain":[0.81152,0.88253],"nice":false,"zero":false},"axis":null},
  "x2":{"field":"t2"},"y2":{"field":"p2"}}},
{"data":{"name":"lines"},
 "transform":[{"filter":"datum.k=='thin'"}],
 "mark":{"type":"rule","color":"#ffeb3b","strokeWidth":1.5},
 "encoding":{"x":{"field":"t1","type":"quantitative","scale":{"domain":[-6.71,346.02],"nice":false,"zero":false},"axis":null},
  "y":{"field":"p1","type":"quantitative","scale":{"domain":[0.81152,0.88253],"nice":false,"zero":false},"axis":null},
  "x2":{"field":"t2"},"y2":{"field":"p2"}}},
{"data":{"name":"cyan"},
 "mark":{"type":"rule","color":"#00e5ff","strokeWidth":3,"strokeCap":"round"},
 "encoding":{"x":{"field":"t1","type":"quantitative","scale":{"domain":[-6.71,346.02],"nice":false,"zero":false},"axis":null},
  "y":{"field":"p1","type":"quantitative","scale":{"domain":[0.81152,0.88253],"nice":false,"zero":false},"axis":null},
  "x2":{"field":"t2"},"y2":{"field":"p2"}}},
{"data":{"name":"heads"},
 "transform":[{"filter":"datum.d=='up'"}],
 "mark":{"type":"point","shape":"M-1,1L0,0L1,1","filled":false,"strokeWidth":3,"color":"#00e5ff","size":400,"angle":25,"opacity":1,"strokeCap":"round"},
 "encoding":{"x":{"field":"t","type":"quantitative","scale":{"domain":[-6.71,346.02],"nice":false,"zero":false},"axis":null},
  "y":{"field":"p","type":"quantitative","scale":{"domain":[0.81152,0.88253],"nice":false,"zero":false},"axis":null}}},
{"data":{"name":"heads"},
 "transform":[{"filter":"datum.d=='down'"}],
 "mark":{"type":"point","shape":"M-1,1L0,0L1,1","filled":false,"strokeWidth":3,"color":"#00e5ff","size":400,"angle":152.5,"opacity":1,"strokeCap":"round"},
 "encoding":{"x":{"field":"t","type":"quantitative","scale":{"domain":[-6.71,346.02],"nice":false,"zero":false},"axis":null},
  "y":{"field":"p","type":"quantitative","scale":{"domain":[0.81152,0.88253],"nice":false,"zero":false},"axis":null}}},
{"data":{"values":[{"s":"Euro / British Pound, 1D, FXCM","t":-5.66,"p":0.88149,"k":"g"},{"s":"O0.83979\u00a0\u00a0\u00a0\u00a0H0.84251\u00a0\u00a0\u00a0\u00a0L0.83762\u00a0\u00a0\u00a0\u00a0C0.84205\u00a0\u00a0\u00a0\u00a0+0.00226 (+0.27%)","t":19.9,"p":0.88149,"k":"v"}]},
 "mark":{"type":"text","font":"Roboto","fontSize":18.5,"align":"left","baseline":"middle"},
 "encoding":{"x":{"field":"t","type":"quantitative","scale":{"domain":[-6.71,346.02],"nice":false,"zero":false},"axis":null},
  "y":{"field":"p","type":"quantitative","scale":{"domain":[0.81152,0.88253],"nice":false,"zero":false},"axis":null},
  "text":{"field":"s"},
  "color":{"condition":{"test":"datum.k=='g'","value":"#787b86"},"value":"#43a047"}}},
{"data":{"values":[{"a":329.9,"b":336.8,"lo":0.84143,"hi":0.84256,"k":"g"},{"a":336.9,"b":346.0,"lo":0.84074,"hi":0.84261,"k":"g"},{"a":336.9,"b":345.1,"lo":0.83151,"hi":0.83265,"k":"o"}]},
 "mark":{"type":"rect","cornerRadius":2},
 "encoding":{"x":{"field":"a","type":"quantitative","scale":{"domain":[-6.71,346.02],"nice":false,"zero":false},"axis":null},
  "x2":{"field":"b"},
  "y":{"field":"lo","type":"quantitative","scale":{"domain":[0.81152,0.88253],"nice":false,"zero":false},"axis":null},
  "y2":{"field":"hi"},
  "color":{"condition":{"test":"datum.k=='o'","value":"#f57c00"},"value":"#6aa84f"}}},
{"data":{"values":[{"s":"EURGBP","t":330.5,"p":0.842},{"s":"0.84205","t":338.2,"p":0.84204},{"s":"0.83208","t":338.2,"p":0.83208}]},
 "mark":{"type":"text","font":"Roboto","fontSize":17,"fontWeight":"bold","align":"left","baseline":"middle","color":"#ffffff"},
 "encoding":{"x":{"field":"t","type":"quantitative","scale":{"domain":[-6.71,346.02],"nice":false,"zero":false},"axis":null},
  "y":{"field":"p","type":"quantitative","scale":{"domain":[0.81152,0.88253],"nice":false,"zero":false},"axis":null},
  "text":{"field":"s"}}},
{"data":{"values":[{"s":"09:09:19","t":338.2,"p":0.84116}]},
 "mark":{"type":"text","font":"Roboto","fontSize":17,"align":"left","baseline":"middle","color":"#e8f5e9"},
 "encoding":{"x":{"field":"t","type":"quantitative","scale":{"domain":[-6.71,346.02],"nice":false,"zero":false},"axis":null},
  "y":{"field":"p","type":"quantitative","scale":{"domain":[0.81152,0.88253],"nice":false,"zero":false},"axis":null},
  "text":{"field":"s"}}},
{"data":{"values":[{"a":339.4,"b":343.05,"lo":0.88097,"hi":0.88221}]},
 "mark":{"type":"rect","cornerRadius":5,"fill":"#000000","stroke":"#555555","strokeWidth":1},
 "encoding":{"x":{"field":"a","type":"quantitative","scale":{"domain":[-6.71,346.02],"nice":false,"zero":false},"axis":null},
  "x2":{"field":"b"},
  "y":{"field":"lo","type":"quantitative","scale":{"domain":[0.81152,0.88253],"nice":false,"zero":false},"axis":null},
  "y2":{"field":"hi"}}},
{"data":{"values":[{"s":"GBP","t":341.22,"p":0.88159}]},
 "mark":{"type":"text","font":"Roboto","fontSize":15,"align":"center","baseline":"middle","color":"#787878"},
 "encoding":{"x":{"field":"t","type":"quantitative","scale":{"domain":[-6.71,346.02],"nice":false,"zero":false},"axis":null},
  "y":{"field":"p","type":"quantitative","scale":{"domain":[0.81152,0.88253],"nice":false,"zero":false},"axis":null},
  "text":{"field":"s"}}}
]
},
{
"width":3680,"height":395,
"resolve":{"axis":{"x":"independent","y":"independent"}},
"layer":[
{"data":{"values":[{"v":0}]},
 "mark":{"type":"rule","color":"#3a3a3a","strokeWidth":1},
 "encoding":{"y":{"field":"v","type":"quantitative","scale":{"domain":[-0.00963,0.003415],"nice":false,"zero":false},"axis":null},
  "x":{"datum":-6.71,"type":"quantitative","scale":{"domain":[-6.71,346.02],"nice":false,"zero":false},"axis":null},
  "x2":{"datum":336.9}}},
{"data":{"name":"macd"},
 "transform":[{"window":[{"op":"lag","field":"m","as":"pm"}],"sort":[{"field":"t","order":"ascending"}]}],
 "mark":{"type":"bar","width":3},
 "encoding":{"x":{"field":"t","type":"quantitative","scale":{"domain":[-6.71,346.02],"nice":false,"zero":false},
   "axis":{"orient":"bottom","offset":-41,"values":[0,11,23,34,45,66,77,88,99,110,121,132,143,154,175,186,197,208,220,241,261,272,284,305,316,327],
    "labelExpr":"['Mar','16','Apr','16','May','Jun','16','Jul','16','Aug','17','Sep','16','Oct','Nov','16','Dec','16','2022','Feb','Mar','16','Apr','May','17','Jun'][indexof([0,11,23,34,45,66,77,88,99,110,121,132,143,154,175,186,197,208,220,241,261,272,284,305,316,327],datum.value)]",
    "labelPadding":11,"labelBaseline":"middle","labelFontSize":15,"labelColor":"#787878","labelOverlap":false,"labelFlush":false,"ticks":false,"grid":false,"domainColor":"#4d4d4d",
    "title":"TradingView","titleX":25,"titleY":61,"titleAlign":"left","titleBaseline":"middle","titleFont":"Roboto","titleFontSize":20,"titleFontWeight":"bold","titleColor":"#131722"}},
  "y":{"field":"m","type":"quantitative","scale":{"domain":[-0.00963,0.003415],"nice":false,"zero":false},
   "axis":{"orient":"right","offset":-95,"values":[0.002,0,-0.002,-0.004,-0.006,-0.008],"labelExpr":"(datum.value < 0 ? '-' : '') + format(abs(datum.value), '.5f')","labelPadding":94,"labelAlign":"right","labelFontSize":20,"labelColor":"#787878","title":null,"ticks":false,"grid":false,"domainColor":"#4d4d4d"}},
  "y2":{"datum":0},
  "color":{"condition":{"test":"datum.pm == null || datum.m >= datum.pm","value":"#1f6b22"},"value":"#ff3d00"}}},
{"data":{"values":[{"s":"MACD 4C (12, 26)","t":-5.56,"v":0.00261,"k":"g"},{"s":"-0.00057","t":8.91,"v":0.00261,"k":"d"},{"s":"0.00000","t":16.87,"v":0.00261,"k":"w"}]},
 "mark":{"type":"text","font":"Roboto","fontSize":17,"align":"left","baseline":"middle"},
 "encoding":{"x":{"field":"t","type":"quantitative","scale":{"domain":[-6.71,346.02],"nice":false,"zero":false},"axis":null},
  "y":{"field":"v","type":"quantitative","scale":{"domain":[-0.00963,0.003415],"nice":false,"zero":false},"axis":null},
  "text":{"field":"s"},
  "color":{"condition":{"test":"datum.k=='g'","value":"#787b86"},"value":{"expr":"datum.k=='d' ? '#2e7d32' : '#b2b5be'"}}}}
]
}
]
}
